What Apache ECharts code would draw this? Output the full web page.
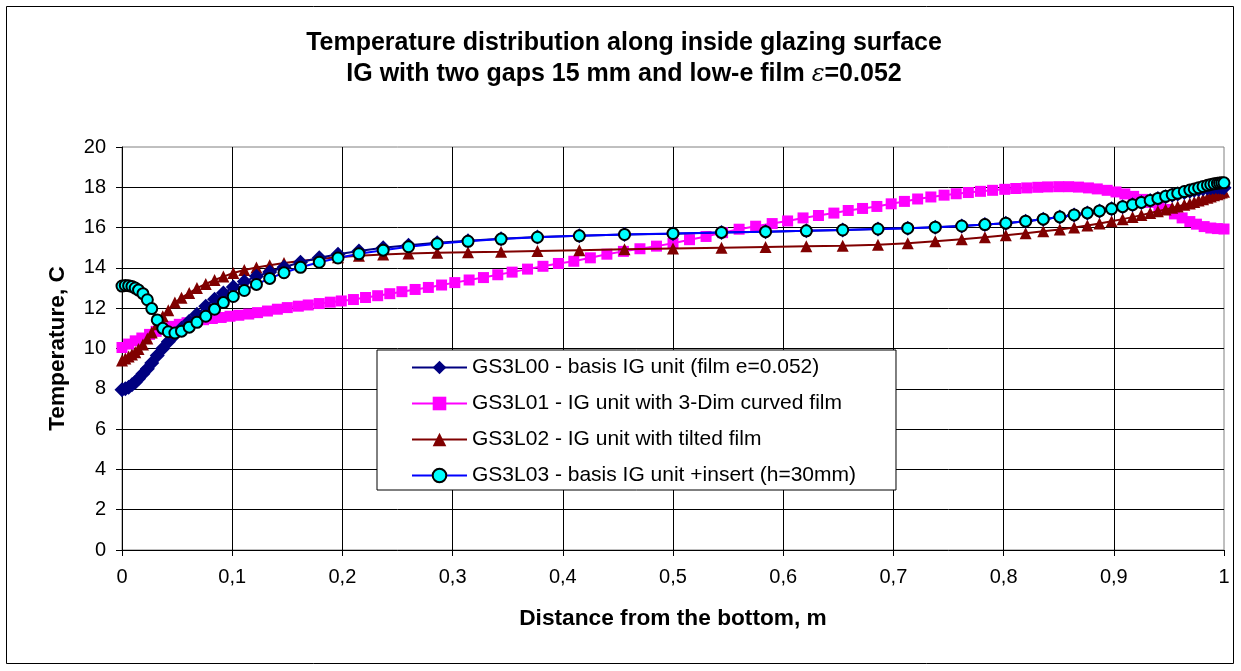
<!DOCTYPE html>
<html>
<head>
<meta charset="utf-8">
<script src="https://cdn.jsdelivr.net/npm/echarts@6/dist/echarts.min.js"></script>
<style>
html,body{margin:0;padding:0;background:#fff;}
#c{width:1241px;height:671px;}
</style>
</head>
<body>
<div id="c"></div>
<script>
// Mesh (distance from the bottom, m) for GS3L00, GS3L02, GS3L03
const xMesh = [0, 0.003, 0.006, 0.009, 0.012, 0.015, 0.019, 0.023, 0.027, 0.032,
  0.037, 0.042, 0.048, 0.054, 0.061, 0.068, 0.076, 0.084, 0.092, 0.101,
  0.111, 0.122, 0.134, 0.147, 0.162, 0.179, 0.196, 0.215, 0.237, 0.260,
  0.286, 0.314, 0.344, 0.377, 0.415, 0.456, 0.500,
  0.544, 0.584, 0.621, 0.654, 0.686, 0.713, 0.738, 0.762, 0.783, 0.802,
  0.820, 0.836, 0.851, 0.864, 0.876, 0.887, 0.898, 0.908, 0.917, 0.925,
  0.933, 0.940, 0.947, 0.953, 0.958, 0.964, 0.969, 0.973, 0.977, 0.981,
  0.985, 0.988, 0.991, 0.994, 0.996, 0.998, 1.000];

// Mesh for GS3L01 (3-Dim curved film)
const xMeshFilm = [0, 0.006, 0.012, 0.018, 0.025, 0.031, 0.038, 0.045, 0.052, 0.059,
  0.067, 0.074, 0.082, 0.090, 0.098, 0.106, 0.115, 0.123, 0.132, 0.141,
  0.150, 0.160, 0.169, 0.179, 0.189, 0.199, 0.210, 0.221, 0.232, 0.243,
  0.254, 0.266, 0.278, 0.290, 0.302, 0.315, 0.328, 0.341, 0.354, 0.368,
  0.382, 0.396, 0.410, 0.425, 0.440, 0.455, 0.470, 0.485, 0.500,
  0.515, 0.530, 0.545, 0.560, 0.575, 0.590, 0.604, 0.618, 0.632, 0.646,
  0.659, 0.672, 0.685, 0.698, 0.710, 0.722, 0.734, 0.746, 0.757, 0.768,
  0.779, 0.790, 0.801, 0.811, 0.821, 0.831, 0.840, 0.850, 0.859, 0.868,
  0.877, 0.885, 0.894, 0.902, 0.910, 0.918, 0.926, 0.933, 0.941, 0.948,
  0.955, 0.962, 0.969, 0.975, 0.982, 0.988, 0.994, 1.000];

const yL00 = [7.95, 8.0, 8.08, 8.2, 8.33, 8.5, 8.75, 9.0, 9.28, 9.65,
  10.0, 10.33, 10.68, 11.0, 11.35, 11.7, 12.1, 12.45, 12.75, 13.05,
  13.32, 13.58, 13.8, 14.03, 14.28, 14.5, 14.68, 14.84, 15.0, 15.13,
  15.25, 15.35, 15.45, 15.53, 15.6, 15.66, 15.7,
  15.76, 15.8, 15.84, 15.88, 15.93, 15.97, 16.02, 16.08, 16.15, 16.22,
  16.32, 16.42, 16.53, 16.63, 16.73, 16.83, 16.93, 17.04, 17.14, 17.25,
  17.35, 17.45, 17.53, 17.6, 17.67, 17.74, 17.8, 17.85, 17.89, 17.93,
  17.96, 17.98, 18.0, 18.01, 18.01, 18.0, 17.98];

const yL01 = [10.05, 10.22, 10.38, 10.52, 10.7, 10.85, 10.98, 11.1, 11.2, 11.28,
  11.36, 11.43, 11.49, 11.54, 11.6, 11.65, 11.71, 11.78, 11.86, 11.95,
  12.03, 12.1, 12.16, 12.23, 12.3, 12.36, 12.43, 12.53, 12.62, 12.72,
  12.82, 12.93, 13.03, 13.15, 13.27, 13.4, 13.52, 13.66, 13.79, 13.94,
  14.08, 14.22, 14.33, 14.5, 14.68, 14.82, 14.95, 15.08, 15.22,
  15.4, 15.56, 15.75, 15.92, 16.07, 16.2, 16.33, 16.48, 16.6, 16.72,
  16.85, 16.95, 17.05, 17.18, 17.3, 17.42, 17.52, 17.61, 17.68, 17.74,
  17.8, 17.85, 17.9, 17.94, 17.97, 18.0, 18.02, 18.03, 18.03, 18.01,
  17.97, 17.92, 17.85, 17.77, 17.67, 17.55, 17.4, 17.25, 17.07, 16.9,
  16.68, 16.48, 16.3, 16.17, 16.05, 15.98, 15.95, 15.93];

const yL02 = [9.4, 9.5, 9.6, 9.7, 9.82, 9.98, 10.2, 10.5, 10.8, 11.2,
  11.6, 11.9, 12.28, 12.52, 12.75, 13.0, 13.2, 13.4, 13.57, 13.75,
  13.9, 14.02, 14.13, 14.24, 14.34, 14.44, 14.53, 14.6, 14.66, 14.71,
  14.75, 14.78, 14.8, 14.84, 14.88, 14.92, 14.96,
  15.0, 15.04, 15.07, 15.1, 15.15, 15.22, 15.32, 15.42, 15.52, 15.62,
  15.72, 15.82, 15.91, 16.0, 16.1, 16.2, 16.31, 16.42, 16.52, 16.62,
  16.72, 16.81, 16.9, 16.98, 17.05, 17.13, 17.2, 17.27, 17.34, 17.41,
  17.48, 17.54, 17.6, 17.66, 17.7, 17.74, 17.78];

const yL03 = [13.1, 13.13, 13.12, 13.08, 13.0, 12.9, 12.72, 12.42, 11.98, 11.42,
  11.0, 10.83, 10.77, 10.86, 11.06, 11.3, 11.6, 11.95, 12.28, 12.58,
  12.88, 13.18, 13.48, 13.76, 14.03, 14.28, 14.49, 14.7, 14.88, 15.05,
  15.2, 15.32, 15.43, 15.52, 15.59, 15.66, 15.71,
  15.76, 15.8, 15.84, 15.88, 15.93, 15.97, 16.02, 16.08, 16.15, 16.22,
  16.32, 16.42, 16.53, 16.63, 16.73, 16.83, 16.93, 17.04, 17.14, 17.25,
  17.35, 17.45, 17.55, 17.63, 17.7, 17.79, 17.86, 17.92, 17.98, 18.04,
  18.1, 18.14, 18.17, 18.2, 18.21, 18.22, 18.22];

const seriesNames = [
  'GS3L00 - basis IG unit (film e=0.052)',
  'GS3L01 - IG unit with 3-Dim curved film',
  'GS3L02 - IG unit with tilted film',
  'GS3L03 - basis IG unit +insert (h=30mm)'
];
const xTickLabels = ['0', '0,1', '0,2', '0,3', '0,4', '0,5', '0,6', '0,7', '0,8', '0,9', '1'];
const titleLine1 = 'Temperature distribution along inside glazing surface';
const titleLine2 = 'IG with two gaps 15 mm and low-e film ';
const titleEps = 'ε';
const titleTail = '=0.052';
const xName = 'Distance from the bottom, m';
const yName = 'Temperature, C';

const FONT = "'Liberation Sans', Arial, Helvetica, sans-serif";
const pair = (xs, ys) => xs.map((x, i) => [x, ys[i]]);

const chart = echarts.init(document.getElementById('c'), null, {renderer: 'canvas'});
chart.setOption({
  animation: false,
  backgroundColor: '#fff',
  textStyle: {fontFamily: FONT},
  graphic: [{
    type: 'rect', silent: true, z: -10,
    shape: {x: 6.5, y: 6.5, width: 1227, height: 657},
    style: {fill: null, stroke: '#000', lineWidth: 1}
  }],
  title: {
    left: 624, top: 28, textAlign: 'center', padding: 0,
    text: '{a|' + titleLine1 + '}\n{a|' + titleLine2 + '}{e|' + titleEps + '}{a|' + titleTail + '}',
    textStyle: {
      rich: {
        a: {fontFamily: FONT, fontWeight: 'bold', fontSize: 25, color: '#000', lineHeight: 31},
        e: {fontFamily: "'DejaVu Serif', 'Liberation Serif', serif", fontStyle: 'italic', fontWeight: 'normal', fontSize: 24, color: '#000', lineHeight: 31}
      }
    }
  },
  grid: {
    left: 122, right: 17, top: 147, bottom: 121,
    show: true, borderColor: '#808080', borderWidth: 1, backgroundColor: '#fff'
  },
  legend: {
    orient: 'vertical', left: 377, top: 350,
    padding: [7, 40, 4, 34], itemGap: 15, itemWidth: 55, itemHeight: 17,
    borderColor: '#000', borderWidth: 1, backgroundColor: '#fff',
    textStyle: {fontFamily: FONT, fontSize: 21, color: '#000'},
    data: seriesNames, z: 20
  },
  xAxis: {
    type: 'value', min: 0, max: 1, interval: 0.1,
    name: xName, nameLocation: 'middle', nameGap: 57,
    nameTextStyle: {fontFamily: FONT, fontWeight: 'bold', fontSize: 22.7, color: '#000'},
    axisLine: {show: true, lineStyle: {color: '#000', width: 1}},
    axisTick: {show: true, inside: false, length: 6, lineStyle: {color: '#000'}},
    axisLabel: {fontFamily: FONT, fontSize: 20, color: '#000', margin: 17,
      formatter: v => xTickLabels[Math.round(v * 10)]},
    splitLine: {show: true, showMinLine: false, showMaxLine: false, lineStyle: {color: '#000', width: 1}}
  },
  yAxis: {
    type: 'value', min: 0, max: 20, interval: 2,
    name: yName, nameLocation: 'middle', nameGap: 53,
    nameTextStyle: {fontFamily: FONT, fontWeight: 'bold', fontSize: 22.7, color: '#000'},
    axisLine: {show: true, lineStyle: {color: '#000', width: 1}},
    axisTick: {show: true, inside: false, length: 6, lineStyle: {color: '#000'}},
    axisLabel: {fontFamily: FONT, fontSize: 20, color: '#000', margin: 16},
    splitLine: {show: true, showMinLine: false, showMaxLine: false, lineStyle: {color: '#000', width: 1}}
  },
  series: [
    {
      name: seriesNames[0], type: 'line', z: 4,
      data: pair(xMesh, yL00),
      symbol: 'diamond', symbolSize: 15,
      lineStyle: {color: '#000080', width: 2},
      itemStyle: {color: '#000080', borderColor: '#000080', borderWidth: 0}
    },
    {
      name: seriesNames[1], type: 'line', z: 2,
      data: pair(xMeshFilm, yL01),
      symbol: 'rect', symbolSize: 11,
      lineStyle: {color: '#FF00FF', width: 2},
      itemStyle: {color: '#FF00FF', borderWidth: 0}
    },
    {
      name: seriesNames[2], type: 'line', z: 3,
      data: pair(xMesh, yL02),
      symbol: 'triangle', symbolSize: 12,
      lineStyle: {color: '#800000', width: 2},
      itemStyle: {color: '#800000', borderWidth: 0}
    },
    {
      name: seriesNames[3], type: 'line', z: 5,
      data: pair(xMesh, yL03),
      symbol: 'circle', symbolSize: 11,
      lineStyle: {color: '#0000FF', width: 2},
      itemStyle: {color: '#00FFFF', borderColor: '#000', borderWidth: 2}
    }
  ]
});
</script>
</body>
</html>
